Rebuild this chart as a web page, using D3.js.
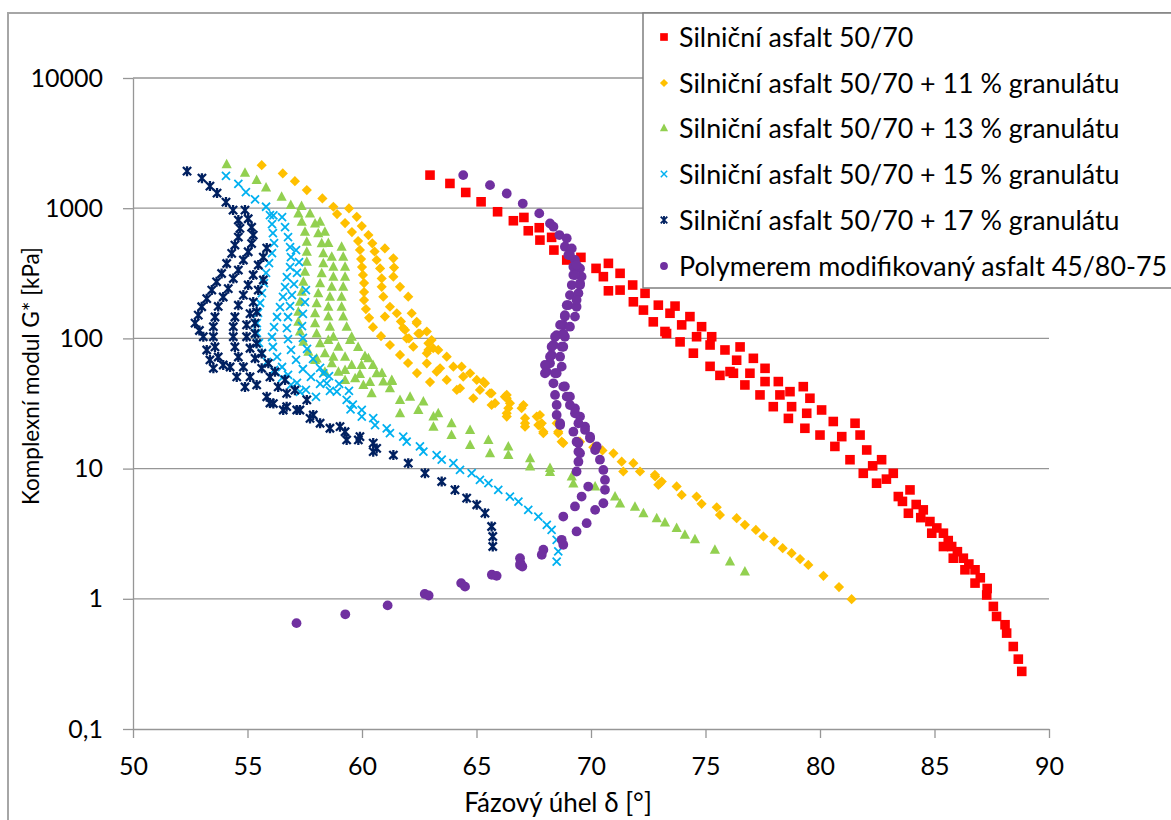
<!DOCTYPE html>
<html><head><meta charset="utf-8">
<script src="https://cdn.jsdelivr.net/npm/d3@7"></script>
<style>
body{margin:0;background:#fff}
svg{display:block}
text{font-family:Lato,"Open Sans",sans-serif;fill:#000}
</style>
</head><body>
<svg id="c" width="1171" height="820"></svg>
<script>
// ---------- data ----------
const seriesNames = [
  "Silniční asfalt 50/70",
  "Silniční asfalt 50/70 + 11 % granulátu",
  "Silniční asfalt 50/70 + 13 % granulátu",
  "Silniční asfalt 50/70 + 15 % granulátu",
  "Silniční asfalt 50/70 + 17 % granulátu",
  "Polymerem modifikovaný asfalt 45/80-75"
];
const xTicks = [50,55,60,65,70,75,80,85,90];
const yTicks = [0.1,1,10,100,1000,10000];
const yTickLabels = ["0,1","1","10","100","1000","10000"];
const xTitle = "Fázový úhel δ [°]";
const yTitle = "Komplexní modul G* [kPa]";

// [phase angle δ (°), |G*| (kPa)]
const asfalt5070 = [
[62.97,1795],[63.84,1549],[64.53,1321],[65.20,1120],[65.92,939],[66.61,801],[67.07,849],[67.26,671],[67.74,708],[67.77,569],[68.28,597],[68.38,477],[68.94,400],[69.56,419],[70.22,345],[70.54,298],[70.76,377],[70.76,232],[71.27,316],[71.27,235],[71.82,257],[71.85,191],[72.36,222],[72.29,165],[72.94,180],[72.72,134],[73.67,177],[73.30,109],[74.32,147],[73.89,94],[74.83,123],[74.47,77],[75.27,103],[75.20,61],[75.85,81.5],[75.63,52],[76.51,86],[76.36,68],[76.22,54],
[73.45,156],[73.23,113],[73.96,127],[74.61,103],[75.20,89],[76.07,55.6],
[76.72,43.9],[76.94,54],[77.09,70.3],[77.38,36.8],[77.60,46.6],[77.60,58.9],[77.96,29.9],[78.18,46.6],[78.25,36.8],[78.69,39],[78.62,24.3],[78.76,29.9],[79.27,42.6],[79.34,20.4],[79.56,34.7],[79.42,26.6],[80.07,28.2],[80.0,18.1],[80.58,23],[80.65,14.8],[80.95,17.6],[81.53,22.3],[81.75,18.1],[81.31,11.7],[82.04,13.9],[81.89,9.2],[82.69,11.7],[82.47,7.72],[83.20,9.2],[83.42,6.1],[83.93,6.86],[83.86,4.54],[84.51,4.82],[84.80,3.92],[84.88,3.19],[85.39,3.19],[85.39,2.52],[85.75,2.52],[85.82,2.05],[86.26,2.05],[86.33,1.67],[86.77,1.67],[86.77,1.32],[87.28,1.07],[87.57,0.874],[87.71,0.732],[88.08,0.632],[88.15,0.545],[88.44,0.43],[88.66,0.344],[88.81,0.277],
[82.3,10.5],[82.9,8.3],[83.6,5.6],[84.2,5.3],[84.4,4.2],[85.1,3.5],[85.6,2.8],[86.0,2.3],[86.5,1.85],[87.0,1.45],[87.3,1.2]
];

const granulat11 = [
[55.62,2142],[56.54,1849],[57.07,1614],[57.59,1377],[58.27,1189],[58.75,1026],
[58.91,901],[59.26,769],[59.56,656],[59.83,559],[59.91,478],[59.96,407],[60.0,353],[60.04,307],[60.09,266],[60.09,227],[60.09,197],[60.17,168],[60.31,144],[60.48,122],[60.83,104],[61.22,89],[61.66,74.6],[62.01,64.7],[62.4,54.2],[62.97,46.2],
[59.43,996],[59.77,859],[59.99,729],[60.28,622],[60.45,537],[60.55,465],[60.64,400],[60.79,345],[60.86,289],[60.86,249],[60.93,209],[61.22,175],[61.52,156],[61.7,135],[61.88,116],[62.05,100],[62.24,86.3],[62.83,64.4],[63.41,59],
[61.0,491],[61.37,412],[61.4,350],[61.37,298],[61.66,249],[62.02,209],[62.17,156],[62.39,134],[62.83,113],[62.9,81.5],[63.7,72.4],[63.99,60.7],[64.14,40.2],
[62.39,131],[62.53,109],[63.04,97.2],[63.11,84],[64.35,60.7],[64.42,50.8],[65.01,48],[65.15,40.2],[65.66,37.9],[65.81,31.8],[66.32,34.7],[66.39,29.1],[66.97,29.1],[67.12,24.4],[67.63,25.1],[67.7,21.6],[67.92,18.7],[68.5,22.3],[68.79,15.7],
[61.0,147],[61.8,120],[61.95,100],[62.46,109],[62.9,91.7],[63.33,81.5],[62.83,76.9],[63.26,55.5],[63.7,48],[64.28,41.4],[64.72,54],[64.86,34.7],[65.3,46.5],[65.59,37.9],[66.24,35.7],[66.32,26.6],[66.46,31.8],[67.12,22.3],[67.77,21.6],[68.57,18.7],[69.52,16.1],
[65.37,45.2],[65.66,30.8],[66.32,36.8],[66.32,25.1],[67.05,30.8],[67.12,21],[67.77,25.8],[67.85,22.3],[67.92,19.2],[68.57,19.2],[68.72,16.1],[69.45,16.1],[70.1,14.6],[70.5,13.8],[70.98,13.1],[71.34,11.3],[71.41,9.5],[71.85,11],[72.14,9.5],[72.8,8.7],[73.01,7.7],
[72.79,8.95],[73.09,7.96],[72.94,7.5],[73.74,7.3],[73.96,6.28],[74.61,6.1],[74.83,5.36],[75.49,5.05],[75.63,4.41],[76.36,4.16],[76.72,3.7],[77.2,3.38],[77.53,3.01],[78.0,2.75],[78.37,2.45],[78.76,2.24],[79.13,2.02],[79.49,1.82],[80.15,1.5],[80.83,1.23],[81.38,0.994]
];

const granulat13 = [
[54.09,2180],[54.89,1870],[55.4,1643],[55.81,1445],[56.49,1224],[56.89,1056],[57.36,1038],
[57.22,912],[57.37,787],[57.51,659],[57.59,553],[57.59,463],[57.59,388],[57.51,325],[57.44,272],[57.37,228],[57.29,191],[57.22,160],[57.22,134],[57.29,113],[57.44,94.3],[57.66,79],[57.95,68.3],[58.38,55.5],
[57.73,912],[57.95,764],[58.09,641],[58.24,537],[58.31,450],[58.31,377],[58.24,316],[58.17,265],[58.09,222],[58.02,186],[57.95,156],[57.95,131],[58.02,109],[58.17,91.7],[58.38,76.9],[58.68,64.4],[58.97,55.5],[59.26,48],
[58.17,787],[58.38,659],[58.53,541],[58.68,424],[58.75,355],[58.75,298],[58.68,249],[58.6,209],[58.53,175],[58.53,147],[58.6,123],[58.75,103],[58.97,86.3],[59.26,72.4],[59.55,62.5],[59.91,53.3],[60.35,46.3],
[59.11,506],[59.18,424],[59.26,355],[59.26,298],[59.18,249],[59.11,209],[59.11,175],[59.18,147],[59.33,123],[59.55,103],[59.83,86],[60.13,73.3],[60.48,62.5],[60.87,54.2],[61.31,47.1],
[58.02,70],[58.53,97],[58.75,72.4],[59.26,57.2],[59.7,49.4],[59.48,97],[59.98,62.5],[60.06,43.9],[60.42,37.9],[60.28,70.3],[60.64,54],[60.93,46.6],[61.3,48],[61.22,41.4],[61.66,33.7],[61.66,26.6],[62.1,35.7],[62.46,28.2],[62.68,32.7],[63.12,25.1],[63.12,21],[63.33,26.6],[63.91,22.3],[63.91,18.1],[64.72,19.8],[64.72,15.2],[65.52,16.6],[65.59,13.1],[66.39,14.8],[66.39,12.7],[67.34,12],[67.34,10.4],[68.21,10.1],[68.21,9.4],[69.16,8.7],[69.23,7.7],[70.18,7.3],[71.05,6.1],[71.27,5.4],[71.92,5.1],[72.29,4.54],[72.87,4.16],[73.23,3.85],[73.74,3.49],[74.1,3.1],[74.54,2.87],[75.41,2.38],[76.07,1.93],[76.72,1.62]
];

const granulat15 = [
[54.06,1770],[54.6,1540],[54.93,1330],[55.33,1170],[55.81,1026],[56.13,880],
[55.98,885],[56.07,755],[56.11,644],[56.16,540],[56.07,452],[55.94,379],[55.81,318],[55.72,266],[55.63,223],[55.55,187],[55.46,157],[55.41,131],[55.41,110],[55.5,92.2],[55.63,77.3],[55.85,65.9],[56.16,57.2],[56.51,49.7],[56.9,43.9],[57.29,38.8],
[56.51,855],[56.64,716],[56.77,600],[56.86,503],[56.9,421],[56.86,353],[56.72,296],[56.64,248],[56.55,208],[56.42,174],[56.29,146],[56.16,122],[56.07,102.5],[56.11,85.9],[56.29,72],[56.51,60.3],[56.77,52.4],[57.16,45.5],[57.55,40.2],[57.99,35.5],
[57.12,477],[57.25,386],[57.16,318],[57.03,261],[56.94,215],[56.86,177],[56.77,146],[56.72,120],[56.77,98.9],[56.9,81.5],[57.12,68.3],[57.42,58.2],[57.77,50.6],[58.17,44.7],[58.6,39.5],
[57.55,235],[57.51,190],[57.42,154],[57.38,124],[57.42,101],[57.6,83],[57.86,69.5],[58.17,59.3],[58.56,51.4],[59.0,44.7],[59.43,39.5],
[58.31,53.8],[58.46,45.2],[58.9,39],[59.33,33.7],[59.5,28.5],[59.6,31],[59.99,28.2],[59.99,25.1],[60.49,24.4],[60.57,21.6],[61.08,20.4],[61.22,18.7],[61.8,17.6],[61.95,16.1],[62.53,14.8],[62.68,13.5],[63.26,12.7],[63.48,11.7],[63.99,11],[64.28,9.77],[64.79,9.22],[65.15,8.18],[65.52,7.73],[65.95,6.86],[66.46,6.1],[66.83,5.58],[67.26,4.82],[67.7,4.28],[68.07,3.7],[68.28,3.39],[68.5,2.84],[68.57,2.31],[68.5,1.93]
];

const granulat17 = [
[52.36,1926],[53.01,1702],[53.36,1478],[53.67,1306],[54.06,1114],[54.37,967],
[54.6,811],[54.67,700],[54.6,600],[54.45,521],[54.31,450],[54.09,376],[53.87,315],[53.65,272],[53.44,235],[53.22,202],[53.0,175],[52.85,151],[52.71,131],[52.9,115],[53.07,103],[53.22,81.5],[53.36,68.3],[53.51,58.9],
[54.89,967],[55.03,830],[55.18,715],[55.25,622],[55.18,535],[55.03,463],[54.82,400],[54.6,335],[54.38,288],[54.16,241],[53.94,208],[53.72,176],[53.58,146],[53.51,123],[53.51,103],[53.58,86],[53.72,72],[53.94,62.5],[54.24,60.3],[54.53,50.6],[54.89,42.4],
[55.84,494],[55.69,421],[55.47,366],[55.25,307],[55.03,257],[54.82,215],[54.6,180],[54.45,146],[54.38,123],[54.38,103],[54.45,86],[54.6,72],[54.82,60.3],[55.11,50.6],[55.4,43.9],[55.84,35.6],[56.13,31.6],
[55.69,281],[55.47,235],[55.25,190],[55.11,155],[54.96,127],[54.96,103],[55.11,84],[55.33,70.3],[55.62,58.9],[55.98,50.6],[56.34,42.4],[56.71,37.8],[57.15,28.2],[57.73,24.3],
[55.4,160],[55.33,131],[55.33,109],[55.4,91.5],[55.62,76.5],[55.91,64.3],[56.2,55.4],[56.64,48],[57.07,40],[57.59,33.7],[57.87,25.8],[58.17,22.3],
[55.98,31.9],[56.56,28.2],[56.71,29.9],[57.29,28.2],[58.6,20.4],[59.04,21],[59.26,19.2],[59.33,16.6],[59.84,16.6],[59.91,17.6],[60.49,15.7],[60.64,14.3],[60.49,13.5],[61.37,12.7],[62.02,11],[62.75,9.22],[63.48,7.95],[64.06,6.86],[64.57,5.93],[65.01,5.27],[65.37,4.55],[65.66,3.59],[65.71,3.01],[65.71,2.52]
];

const pmb4580 = [
[64.42,1795],[65.59,1503],[66.32,1297],[67.02,1086],[67.74,912],[68.21,764],[68.36,721],[68.62,622],[68.94,587],[68.86,506],[69.16,491],[69.01,437],[69.3,400],[69.23,355],[69.52,345],[69.23,307],[69.59,298],[69.16,257],[69.52,257],[69.08,215],[69.45,222],[69.01,180],[69.37,175],[68.86,151],[69.3,147],[68.79,127],[69.08,123],[68.5,106],[68.86,103],[68.36,89],[68.79,86.3],[68.28,74.6],[68.65,72.4],[68.21,64.4],[68.72,60.7],[68.06,55.6],[68.43,54],[68.36,45.2],[68.86,42.7],[68.43,36.8],[69.08,35.7],[68.5,30.8],[69.3,29],[68.65,21.6],[69.52,25.1],[69.74,21],[69.96,17.6],[70.25,14.8],[69.45,15.7],[69.52,13.1],
[69.08,437],[69.37,366],[69.3,306],[69.52,265],[69.37,197],[68.94,180],[68.86,147],[68.65,127],[68.79,109],[68.43,103],[68.28,86.4],[68.72,86.4],[68.21,72.4],[67.99,62.5],[67.99,54],[68.5,54],[68.79,42.6],[68.94,35.7],[69.08,30.8],[68.5,25.8],[69.3,26.6],[68.65,22.3],[69.45,22.3],[69.23,19.2],[69.74,19.8],[69.37,16.1],[69.96,17.1],[69.45,13.5],[70.18,13.9],[69.45,11.3],[70.39,11.7],[69.37,9.5],[70.54,9.77],[69.88,7.28],[70.61,8.18],[70.61,6.87],[69.59,6.1],[70.54,5.42],[69.3,5.12],[70.18,4.82],[68.79,4.28],[69.81,3.81],[69.37,3.29],[68.72,2.84],[68.79,2.6],[67.92,2.38],[67.85,2.18],[66.9,2.05],[66.9,1.82],
[57.14,0.65],[59.27,0.76],[61.12,0.89],[62.74,1.09],[62.91,1.06],[64.33,1.32],[64.5,1.24],[65.67,1.53],[65.88,1.5],[66.92,1.88],[67.0,1.77]
];

const seriesData = [asfalt5070, granulat11, granulat13, granulat15, granulat17, pmb4580];
const seriesColors = ["#FF0000","#FFC000","#92D050","#00B0F0","#002060","#7030A0"];
const seriesMarkers = ["square","diamond","triangle","x","star","circle"];

// ---------- drawing ----------
const W = 1171, H = 820;
const svg = d3.select("#c");
const x = d3.scaleLinear().domain([50,90]).range([133,1049]);
const y = d3.scaleLog().domain([0.1,10000]).range([729,78]);

// outer chart border
svg.append("rect").attr("x",8).attr("y",13).attr("width",W+20).attr("height",H+20)
  .attr("fill","#fff").attr("stroke","#A6A6A6").attr("stroke-width",2);

// horizontal gridlines
svg.append("g").selectAll("line").data(yTicks.filter(d=>d>0.1)).join("line")
  .attr("x1",x(50)).attr("x2",x(90)).attr("y1",d=>y(d)).attr("y2",d=>y(d))
  .attr("stroke","#969696").attr("stroke-width",1.3);

// axes
const gx = svg.append("g").attr("transform",`translate(0,${y(0.1)})`)
  .call(d3.axisBottom(x).tickValues(xTicks).tickFormat(d3.format("d")).tickSize(9).tickSizeOuter(0).tickPadding(19));
const gy = svg.append("g").attr("transform",`translate(${x(50)},0)`)
  .call(d3.axisLeft(y).tickValues(yTicks).tickFormat((d,i)=>yTickLabels[i]).tickSize(10).tickSizeOuter(0).tickPadding(20));
[gx,gy].forEach(g=>{
  g.selectAll("path.domain").attr("stroke","#969696").attr("stroke-width",1.3);
  g.selectAll(".tick line").attr("stroke","#969696").attr("stroke-width",1.3);
  g.selectAll(".tick text").attr("font-size",25).attr("fill","#000")
   .style("font-family","Lato, 'Open Sans', sans-serif");
});

// markers
const markerPath = {
  square: "M-4.8,-4.8h9.6v9.6h-9.6z",
  diamond: "M0,-5.1L5.1,0L0,5.1L-5.1,0Z",
  triangle: "M0,-5.5L5.1,4L-5.1,4Z",
  x: "M-4,-4L4,4M-4,4L4,-4",
  star: "M-4.1,-4.1L4.1,4.1M-4.1,4.1L4.1,-4.1M0,-5V5",
};
function drawMarker(sel, type, color, scale){
  if(type==="circle"){
    sel.append("circle").attr("r",4.9*scale).attr("fill",color);
  } else if(type==="x" || type==="star"){
    sel.append("path").attr("d",markerPath[type]).attr("transform",`scale(${scale})`)
      .attr("fill","none").attr("stroke",color).attr("stroke-width",type==="star"?2.3:1.8);
  } else {
    sel.append("path").attr("d",markerPath[type]).attr("transform",`scale(${scale})`).attr("fill",color);
  }
}

const plot = svg.append("g");
seriesData.forEach((data,si)=>{
  const g = plot.append("g");
  g.selectAll("g").data(data).join("g")
    .attr("transform",d=>`translate(${x(d[0])},${y(d[1])})`)
    .each(function(){ drawMarker(d3.select(this), seriesMarkers[si], seriesColors[si], 1); });
});

// axis titles
svg.append("text").attr("x",558).attr("y",812).attr("text-anchor","middle")
  .attr("font-size",26).text(xTitle);
svg.append("text").attr("transform","translate(39,376) rotate(-90)").attr("text-anchor","middle")
  .attr("font-size",22.5).text(yTitle);

// legend
const lg = svg.append("g");
lg.append("rect").attr("x",643).attr("y",13).attr("width",560).attr("height",275)
  .attr("fill","#fff").attr("stroke","#7F7F7F").attr("stroke-width",1.5);
const rows = [37,83,128,174,220,266];
seriesNames.forEach((name,i)=>{
  const m = lg.append("g").attr("transform",`translate(664,${rows[i]})`);
  drawMarker(m, seriesMarkers[i], seriesColors[i], 0.8);
  lg.append("text").attr("x",679).attr("y",rows[i]).attr("dy","0.36em")
    .attr("font-size",26.8).text(name);
});
</script>
</body></html>
